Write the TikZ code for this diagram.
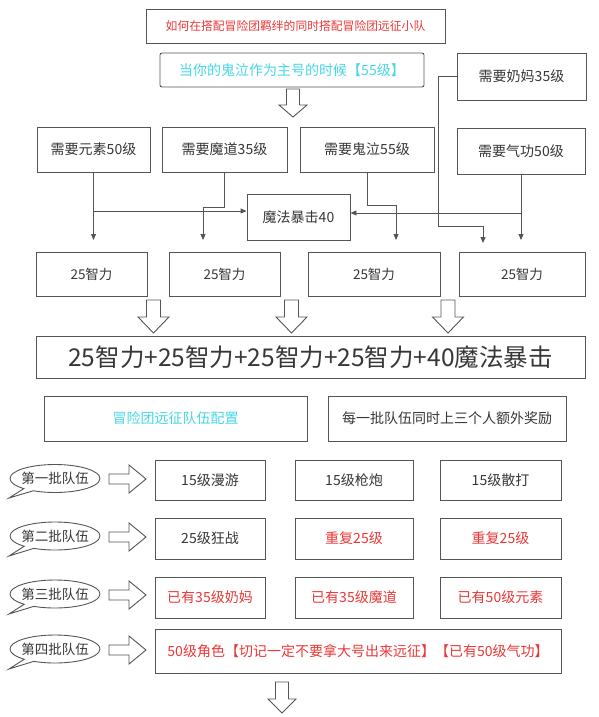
\documentclass[tikz,border=0pt]{standalone}
\usepackage{fontspec}
\setmainfont{Noto Sans CJK SC}
\usetikzlibrary{arrows.meta,shapes.callouts,shapes.geometric}
\definecolor{linegray}{RGB}{85,85,85}
\definecolor{textgray}{RGB}{55,55,55}
\definecolor{redtxt}{RGB}{235,55,55}
\definecolor{cyantxt}{RGB}{70,215,230}
\newcommand\hollowdown[6]{% cx, top, bot, headw, shaftw, headlen
 \draw[hollow] ({#1-#5/2},#2) -- ({#1+#5/2},#2) -- ({#1+#5/2},{#3-#6}) -- ({#1+#4/2},{#3-#6}) -- (#1,#3) -- ({#1-#4/2},{#3-#6}) -- ({#1-#5/2},{#3-#6}) -- cycle;}
\newcommand\hollowright[6]{% left, right, cy, headh, shafth, headlen
 \draw[hollow] (#1,{#3-#5/2}) -- ({#2-#6},{#3-#5/2}) -- ({#2-#6},{#3-#4/2}) -- (#2,#3) -- ({#2-#6},{#3+#4/2}) -- ({#2-#6},{#3+#5/2}) -- (#1,{#3+#5/2}) -- cycle;}
\tikzset{
 box/.style={draw=linegray, line width=0.9pt, fill=white, text=textgray, inner sep=0pt, font=\fontsize{14}{16}\selectfont},
 sz/.style 2 args={minimum width=#1, minimum height=#2},
 conn/.style={draw=linegray, line width=0.9pt, -{Triangle[length=6pt,width=5pt]}},
 hollow/.style={draw=linegray, line width=0.9pt, fill=white, line join=miter},
 bubble/.style={ellipse callout, draw=linegray, line width=0.9pt, fill=white, text=textgray, minimum width=90pt, minimum height=28pt, inner sep=0pt, font=\fontsize{13.5}{15}\selectfont},
}
\begin{document}
\begin{tikzpicture}[x=1pt,y=-1pt]
\useasboundingbox[fill=white] (0,0) rectangle (598,717);

% top
\node[box, sz={299pt}{34pt}, text=redtxt, font=\fontsize{11.8}{13}\selectfont] (title) at (295.5,26) {如何在搭配冒险团羁绊的同时搭配冒险团远征小队};
\node[box, sz={264pt}{34pt}, rounded corners=2pt, text=cyantxt] (main) at (292,70) {当你的鬼泣作为主号的时候【55级】};
\node[box, sz={129pt}{47pt}] (naima) at (521.5,76.5) {需要奶妈35级};
\hollowdown{293}{89}{117}{28}{13}{12}

\node[box, sz={113pt}{45pt}] (yuansu) at (93.5,149.5) {需要元素50级};
\node[box, sz={125pt}{45pt}] (modao) at (224.5,149.5) {需要魔道35级};
\node[box, sz={134pt}{45pt}] (guiqi) at (367,149.5) {需要鬼泣55级};
\node[box, sz={128pt}{46pt}] (qigong) at (521,151) {需要气功50级};
\node[box, sz={103pt}{46pt}] (mofa) at (298.5,217) {魔法暴击40};

% 25 zhili row
\node[box, sz={111pt}{44pt}, font=\fontsize{13.5}{15}\selectfont] (zl1) at (91.5,274) {25智力};
\node[box, sz={111pt}{44pt}, font=\fontsize{13.5}{15}\selectfont] (zl2) at (224.5,274) {25智力};
\node[box, sz={132pt}{44pt}, font=\fontsize{13.5}{15}\selectfont] (zl3) at (374,274) {25智力};
\node[box, sz={126pt}{44pt}, font=\fontsize{13.5}{15}\selectfont] (zl4) at (522,274) {25智力};

% connectors
\coordinate (y1) at (93.5,211);
\coordinate (yend) at (93.5,240);
\draw[conn] (yuansu.south) -- (yend);
\draw[conn] (y1) -- (y1 -| mofa.west);

\coordinate (m1) at (224.5,207);
\coordinate (m2) at (203,207);
\coordinate (mend) at (203,240);
\draw[conn] (modao.south) -- (m1) -- (m2) -- (mend);

\coordinate (g1) at (367,205);
\coordinate (g2) at (396,205);
\coordinate (gend) at (396,240);
\draw[conn] (guiqi.south) -- (g1) -- (g2) -- (gend);

\coordinate (q1) at (521,213);
\coordinate (qend) at (521,240);
\draw[conn] (qigong.south) -- (qend);
\draw[conn] (q1) -- (q1 -| mofa.east);

\coordinate (n1) at (438,76.5);
\coordinate (n2) at (438,226);
\coordinate (n3) at (483,226);
\coordinate (nend) at (483,243);
\draw[conn] (naima.west) -- (n1) -- (n2) -- (n3) -- (nend);

% hollow arrows to sum
\hollowdown{153.5}{300}{333}{31}{14}{16}
\hollowdown{291.5}{300}{333}{31}{14}{16}
\hollowdown{448}{300}{333}{31}{14}{16}

\node[box, sz={549pt}{42pt}, font=\fontsize{24.5}{27}\selectfont] (sum) at (310.5,357) {25智力+25智力+25智力+25智力+40魔法暴击};

\node[box, sz={263pt}{45pt}, text=cyantxt] (peizhi) at (175.5,418.5) {冒险团远征队伍配置};
\node[box, sz={238pt}{45pt}] (jiangli) at (447,418.5) {每一批队伍同时上三个人额外奖励};

% batches
\node[bubble, callout absolute pointer={(9,498)}] (b1) at (55,478.5) {\makebox[0pt]{第一批队伍}};
\node[bubble, callout absolute pointer={(9,556)}] (b2) at (55,536) {\makebox[0pt]{第二批队伍}};
\node[bubble, callout absolute pointer={(9,614)}] (b3) at (55,594) {\makebox[0pt]{第三批队伍}};
\node[bubble, callout absolute pointer={(9,669)}] (b4) at (55,649) {\makebox[0pt]{第四批队伍}};

\hollowright{109}{146}{479}{28}{10}{17}
\hollowright{109}{146}{537}{28}{10}{17}
\hollowright{109}{146}{595}{28}{10}{17}
\hollowright{109}{146}{650}{28}{10}{17}

\node[box, sz={110pt}{40pt}] (r1a) at (210,480) {15级漫游};
\node[box, sz={118pt}{40pt}] (r1b) at (354,480) {15级枪炮};
\node[box, sz={121pt}{40pt}] (r1c) at (500.5,480) {15级散打};

\node[box, sz={110pt}{41pt}] (r2a) at (210,538.5) {25级狂战};
\node[box, sz={118pt}{41pt}, text=redtxt] (r2b) at (354,538.5) {重复25级};
\node[box, sz={121pt}{41pt}, text=redtxt] (r2c) at (500.5,538.5) {重复25级};

\node[box, sz={110pt}{41pt}, text=redtxt] (r3a) at (210,597.5) {已有35级奶妈};
\node[box, sz={118pt}{41pt}, text=redtxt] (r3b) at (354,597.5) {已有35级魔道};
\node[box, sz={121pt}{41pt}, text=redtxt] (r3c) at (500.5,597.5) {已有50级元素};

\node[box, sz={406pt}{44pt}, text=redtxt] (r4) at (358,651) {50级角色【切记一定不要拿大号出来远征】【已有50级气功】};

\hollowdown{282}{682}{713}{28}{13}{14}
\end{tikzpicture}
\end{document}
